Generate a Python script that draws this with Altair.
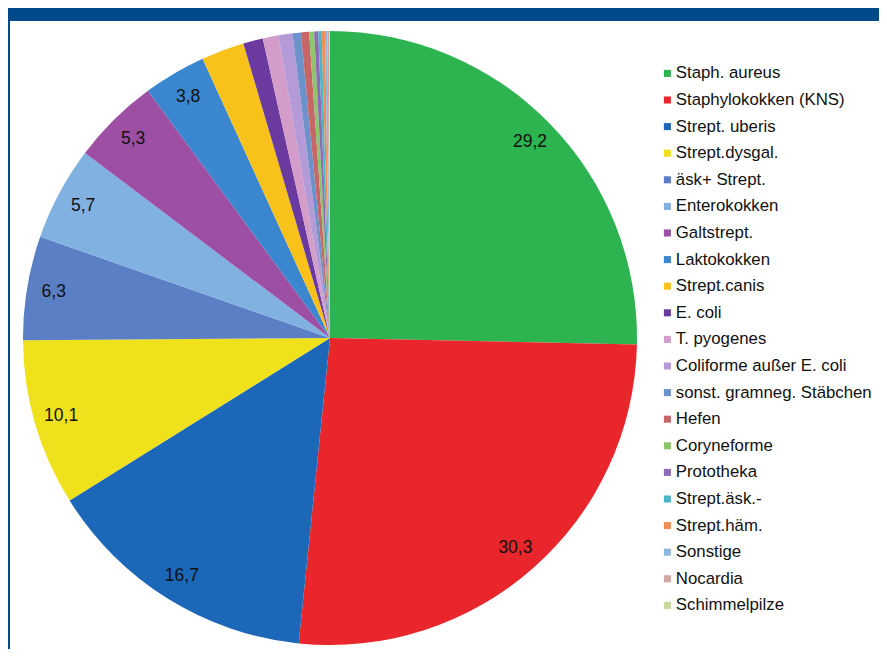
import altair as alt
import pandas as pd

categories = [
    "Staph. aureus", "Staphylokokken (KNS)", "Strept. uberis", "Strept.dysgal.",
    "äsk+ Strept.", "Enterokokken", "Galtstrept.", "Laktokokken", "Strept.canis",
    "E. coli", "T. pyogenes", "Coliforme außer E. coli", "sonst. gramneg. Stäbchen",
    "Hefen", "Coryneforme", "Prototheka", "Strept.äsk.-", "Strept.häm.",
    "Sonstige", "Nocardia", "Schimmelpilze",
]
values = [29.2, 30.3, 16.7, 10.1, 6.3, 5.7, 5.3, 3.8, 2.6,
          1.2, 0.95, 0.85, 0.5, 0.5, 0.3, 0.25, 0.2, 0.2, 0.15, 0.1, 0.05]
colors = [
    "#2db34f", "#e8262b", "#1d67b8", "#efe21d", "#5b7fc4", "#80b1e1", "#9c4fa3",
    "#3a86cf", "#f8c21a", "#6a3a9e", "#d39cc9", "#b49ad6", "#6b93c9", "#c76667",
    "#8dc46c", "#8b6bb6", "#4bb6c6", "#ef8f56", "#8fb7de", "#d3a5a3", "#c7da9c",
]
labelled = 8  # the largest slices carry a value label

df = pd.DataFrame({
    "Erreger": categories,
    "Wert": values,
    "order": list(range(len(categories))),
    "label": [f"{v:.1f}".replace(".", ",") if i < labelled else ""
              for i, v in enumerate(values)],
})

W, H = 871, 641
CX, CY, R = 322, 330, 307

base = alt.Chart(df).encode(
    theta=alt.Theta("Wert:Q", stack=True),
    order=alt.Order("order:Q", sort="ascending"),
)

pie = base.mark_arc(outerRadius=R, stroke=None).encode(
    x=alt.value(CX), y=alt.value(CY),
    color=alt.Color(
        "Erreger:N", sort=None,
        scale=alt.Scale(domain=categories, range=colors),
        legend=alt.Legend(
            title=None, orient="none", legendX=651, legendY=57,
            symbolType="square", symbolSize=50, symbolStrokeWidth=0,
            labelFont="Liberation Sans", labelFontSize=16.8, labelColor="#111111",
            labelLimit=300, rowPadding=8.6, labelOffset=0, padding=0,
        ),
    ),
)

labels = base.mark_text(
    radius=280, font="Liberation Sans", fontSize=17.5, color="#111111",
).encode(x=alt.value(CX), y=alt.value(CY), text="label:N")

band = alt.Chart(df).mark_rect(color="#004a8c").encode(
    x=alt.value(0), x2=alt.value(W), y=alt.value(0), y2=alt.value(13)
)
border = alt.Chart(df).mark_rule(color="#004a8c", strokeWidth=2).encode(
    x=alt.value(1), y=alt.value(0), y2=alt.value(H)
)

chart = alt.layer(band, border, pie, labels).properties(
    width=W, height=H, padding=0,
    autosize=alt.AutoSizeParams(type="none"),
).configure_view(stroke=None)

chart.save("out.html", embed_options={"renderer": "svg", "actions": False})
